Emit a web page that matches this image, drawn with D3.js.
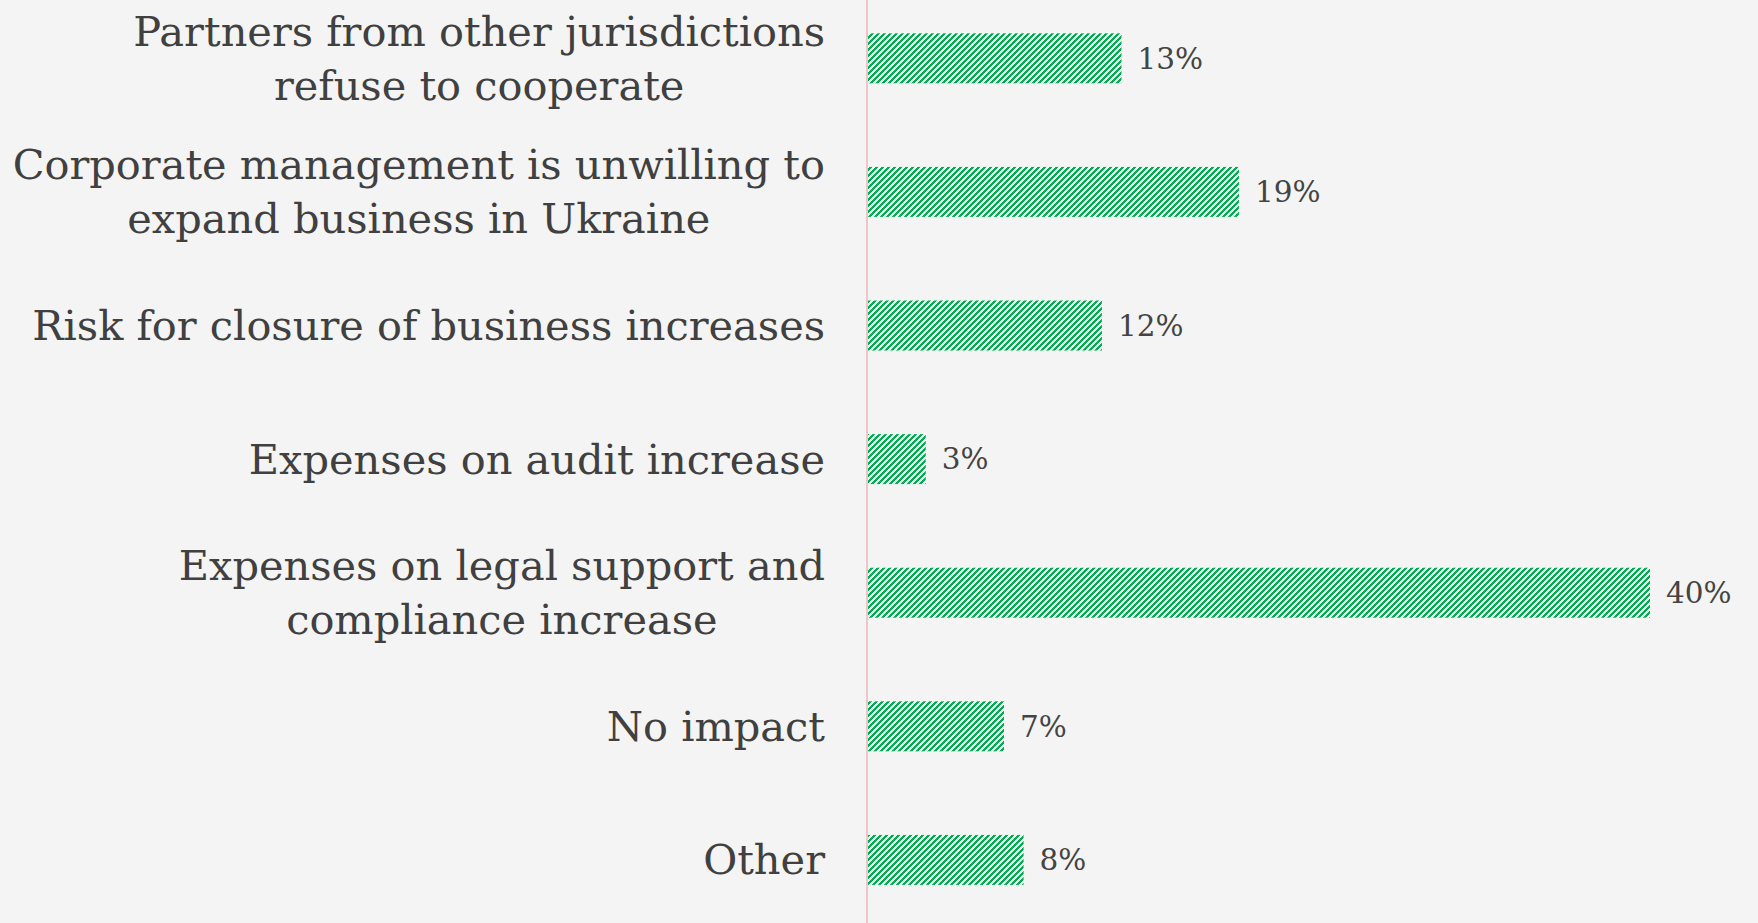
<!DOCTYPE html>
<html>
<head>
<meta charset="utf-8">
<script src="https://cdn.jsdelivr.net/npm/d3@7"></script>
<style>
  html, body { margin: 0; padding: 0; background: #f4f4f4; }
  svg { display: block; }
</style>
</head>
<body>
<svg id="chart" width="1758" height="923"></svg>
<script>
"use strict";

// labels, one entry per line of text
var categories = [
    ["Partners from other jurisdictions", "refuse to cooperate"],
    ["Corporate management is unwilling to", "expand business in Ukraine"],
    ["Risk for closure of business increases"],
    ["Expenses on audit increase"],
    ["Expenses on legal support and", "compliance increase"],
    ["No impact"],
    ["Other"]
];
var values = [13, 19, 12, 3, 40, 7, 8];
var valueLabels = ["13%", "19%", "12%", "3%", "40%", "7%", "8%"];

var width = 1758,
    height = 923,
    axisX = 867,
    labelRight = 825;

var svg = d3.select('#chart');

// hatch fill
var pattern = svg.append('defs')
    .append('pattern')
    .attr('id', 'hatch')
    .attr('patternUnits', 'userSpaceOnUse')
    .attr('width', 6)
    .attr('height', 6);
pattern.append('path')
    .attr('d', 'M-1,1 L1,-1 M0,6 L6,0 M5,7 L7,5')
    .attr('stroke', '#00b050')
    .attr('stroke-width', 1.6)
    .attr('shape-rendering', 'crispEdges');

var y = d3.scaleBand()
    .domain(d3.range(categories.length))
    .range([-8.5, 926.7])
    .paddingInner(0.626)
    .paddingOuter(0.313);

var x = d3.scaleLinear()
    .domain([0, 40])
    .range([axisX, 1650]);

// Bars
svg.append('g')
    .selectAll('rect.bar')
    .data(values)
    .enter()
    .append('rect')
    .classed('bar', true)
    .attr('x', x(0))
    .attr('y', function (d, i) {
        return y(i);
    })
    .attr('width', function (d) {
        return x(d) - x(0);
    })
    .attr('height', y.bandwidth())
    .attr('fill', 'url(#hatch)');

// Value labels
svg.append('g')
    .selectAll('text.value')
    .data(values)
    .enter()
    .append('text')
    .classed('value', true)
    .attr('x', function (d) {
        return x(d) + 16;
    })
    .attr('y', function (d, i) {
        return y(i) + y.bandwidth() / 2;
    })
    .attr('dy', '0.35em')
    .attr('font-family', '"DejaVu Serif", serif')
    .attr('font-size', 29.5)
    .attr('fill', '#444')
    .text(function (d, i) {
        return valueLabels[i];
    });

// Category labels: lines centred on the widest line, block right-aligned
var lineHeight = 54;
var labels = svg.append('g')
    .selectAll('text.label')
    .data(categories)
    .enter()
    .append('text')
    .classed('label', true)
    .attr('font-family', '"DejaVu Serif", serif')
    .attr('font-size', 41.5)
    .attr('fill', '#404040')
    .attr('text-anchor', 'middle');

labels.each(function (lines, i) {
    var t = d3.select(this);
    var cy = y(i) + y.bandwidth() / 2;
    var startY = cy - (lines.length - 1) * lineHeight / 2;
    lines.forEach(function (line, j) {
        t.append('tspan')
            .attr('y', startY + j * lineHeight)
            .attr('dy', '0.35em')
            .text(line);
    });
    var maxW = d3.max(t.selectAll('tspan').nodes(), function (n) {
        return n.getComputedTextLength();
    });
    t.selectAll('tspan').attr('x', labelRight - maxW / 2);
});

// Axis line
svg.append('line')
    .attr('x1', axisX)
    .attr('x2', axisX)
    .attr('y1', 0)
    .attr('y2', height)
    .attr('stroke', '#f0c4c8')
    .attr('stroke-width', 2);
</script>
</body>
</html>
